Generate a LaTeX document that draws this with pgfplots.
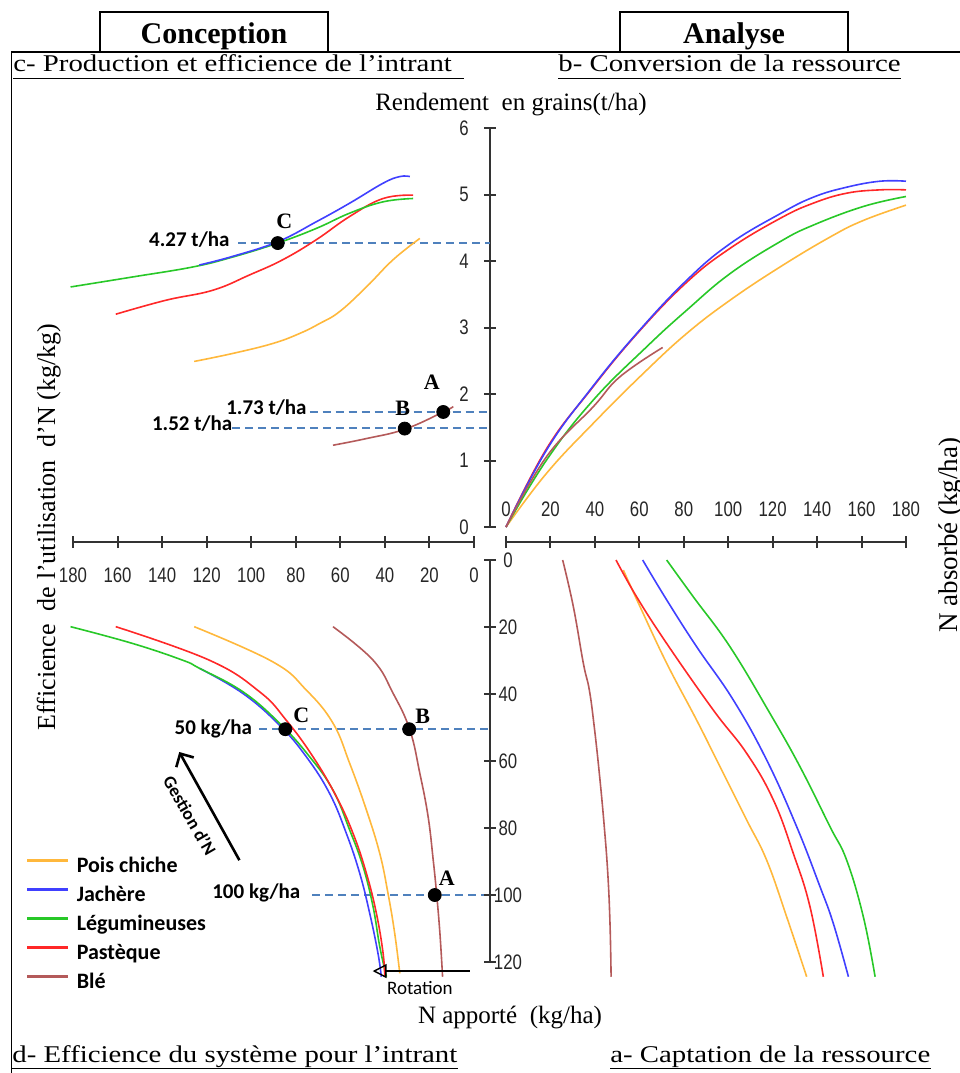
\documentclass[border=0pt]{standalone}
\usepackage{fontspec}
\usepackage{pgfplots}
\pgfplotsset{compat=1.18}
\usetikzlibrary{arrows.meta}
\setmainfont{Liberation Serif}
\newfontfamily\serifw[FakeStretch=1.2]{Liberation Serif}
\newfontfamily\calib{Carlito}
\newfontfamily\tickf[FakeStretch=0.8]{Liberation Sans}
\definecolor{cOr}{RGB}{255,184,60}
\definecolor{cBl}{RGB}{64,64,255}
\definecolor{cGr}{RGB}{40,200,40}
\definecolor{cRe}{RGB}{255,40,40}
\definecolor{cBr}{RGB}{180,90,90}
\definecolor{cDash}{RGB}{79,129,189}
\pgfplotsset{
  quad/.style={scale only axis, clip=false, xmin=0, xmax=180,
    tick align=center, major tick length=6pt,
    axis line style={line width=1pt, black!80},
    tick style={line width=1pt, black!80},
    tick label style={font=\tickf\fontsize{10.5}{12}\selectfont, text=black!85},
    /pgf/number format/assume math mode=true, minor tick num=0},
  crv/.style={line width=0.8pt, smooth, tension=0.7, no marks},
  dsh/.style={cDash, line width=0.8pt, dash pattern=on 4pt off 2.5pt, no marks, forget plot},
  dot/.style={only marks, mark=*, mark size=3.25pt, black, forget plot},
}
\tikzset{
  ann/.style={font=\calib\bfseries\fontsize{10.5}{12}\selectfont},
  let/.style={font=\bfseries\fontsize{11}{13}\selectfont},
}
\begin{document}
\begin{tikzpicture}
\useasboundingbox (0pt,0pt) rectangle (480pt,-536.5pt);
% frame and header boxes
\draw[line width=0.6pt] (5.75pt,-536.5pt) -- (5.75pt,-26pt) -- (480pt,-26pt);
\draw[line width=0.6pt] (50pt,-26pt) rectangle (164pt,-6pt);
\draw[line width=0.6pt] (310pt,-26pt) rectangle (424pt,-6pt);
\node[anchor=base, font=\bfseries\fontsize{15}{18}\selectfont] at (107pt,-21.5pt) {Conception};
\node[anchor=base, font=\bfseries\fontsize{15}{18}\selectfont] at (367pt,-21.5pt) {Analyse};
% section titles
\node[anchor=base west, inner sep=0pt, font=\serifw\fontsize{12}{14}\selectfont] (tc) at (6.5pt,-35.5pt) {c- Production et efficience de l’intrant};
\draw[line width=0.5pt] (6.5pt,-39.25pt) -- ([xshift=6pt]tc.base east |- 0,-39.25pt);
\node[anchor=base west, inner sep=0pt, font=\serifw\fontsize{12}{14}\selectfont] (tb) at (279pt,-35.5pt) {b- Conversion de la ressource};
\draw[line width=0.5pt] (279pt,-39.25pt) -- (tb.base east |- 0,-39.25pt);
\node[anchor=base west, inner sep=0pt, font=\serifw\fontsize{12}{14}\selectfont] (td) at (6pt,-531pt) {d- Efficience du système pour l’intrant};
\draw[line width=0.5pt] (6pt,-534pt) -- (td.base east |- 0,-534pt);
\node[anchor=base west, inner sep=0pt, font=\serifw\fontsize{12}{14}\selectfont] (ta) at (305pt,-531pt) {a- Captation de la ressource};
\draw[line width=0.5pt] (305pt,-534pt) -- (ta.base east |- 0,-534pt);
% axis titles
\node[anchor=base, font=\fontsize{12.5}{14}\selectfont] at (255.5pt,-55pt) {Rendement\ \ en grains(t/ha)};
\node[anchor=base, font=\fontsize{12.5}{14}\selectfont] at (255pt,-511.5pt) {N apporté\ \ (kg/ha)};
\node[anchor=base, rotate=90, font=\fontsize{13}{15}\selectfont] at (27.5pt,-263.5pt) {Efficience\ \ de l’utilisation\ \ d’N (kg/kg)};
\node[anchor=base, rotate=90, font=\fontsize{13.5}{15}\selectfont] at (478.5pt,-267.5pt) {N absorbé (kg/ha)};

% ---------- b: conversion (top right)
\begin{axis}[quad, at={(253pt,-263.5pt)}, anchor=origin, width=200pt, height=199.5pt,
  ymin=0, ymax=6, axis x line*=bottom, axis y line*=left,
  axis x line shift=7.5pt, axis y line shift=8pt,
  xtick={0,20,...,180}, ytick={0,1,...,6},
  xticklabel style={anchor=center, yshift=19.5pt},
  yticklabel style={anchor=center, xshift=-10pt}]
\addplot[crv, cOr] coordinates {(0,0) (18.3,0.81) (39.3,1.56) (61.8,2.31) (81.3,2.91) (100.8,3.41) (123.3,3.91) (145.8,4.36) (160.8,4.61) (180,4.84)};
\addplot[crv, cGr] coordinates {(0,0) (18.3,1.01) (39.3,1.91) (63.3,2.71) (81.3,3.26) (100.8,3.81) (123.3,4.29) (138.3,4.54) (160.8,4.82) (180,4.97)};
\addplot[crv, cRe] coordinates {(0,0) (18.3,1.18) (37.8,2.05) (58.8,2.90) (81.3,3.68) (100.8,4.19) (123.3,4.64) (138.3,4.87) (153.3,5.02) (168.3,5.07) (180,5.07)};
\addplot[crv, cBl] coordinates {(0,0) (18.3,1.16) (37.8,2.06) (58.8,2.91) (81.3,3.71) (100.8,4.26) (123.3,4.71) (138.3,4.96) (153.3,5.11) (168.3,5.20) (180,5.20)};
\addplot[crv, cBr] coordinates {(0,0) (18.3,1.06) (39.3,1.81) (51.3,2.26) (70.5,2.70)};
\end{axis}

% ---------- c: production (top left)
\begin{axis}[quad, at={(237pt,-263.5pt)}, anchor=origin, width=200.5pt, height=199.5pt,
  ymin=0, ymax=6, x dir=reverse, axis x line*=bottom, axis x line shift=7.5pt,
  axis y line=none, xtick={0,20,...,180}, ytick=\empty,
  xticklabel style={anchor=center, yshift=-13.5pt}]
\addplot[dsh] coordinates {(105.8,4.27) (-7.2,4.27)};
\addplot[dsh] coordinates {(73.8,1.73) (-7.2,1.73)};
\addplot[dsh] coordinates {(108.5,1.49) (-7.2,1.49)};
\addplot[crv, cOr] coordinates {(125.6,2.49) (108.3,2.61) (90.3,2.76) (78.3,2.91) (69.3,3.06) (60.3,3.24) (48.3,3.61) (36.3,4.02) (24.3,4.34)};
\addplot[crv, cRe] coordinates {(160.8,3.20) (138.3,3.41) (117.3,3.56) (100.8,3.79) (85.8,4.02) (70.8,4.32) (55.8,4.67) (40.8,4.94) (27.3,4.99)};
\addplot[crv, cGr] coordinates {(181.1,3.61) (153.3,3.76) (126.3,3.91) (108.3,4.06) (88.1,4.27) (70.8,4.49) (55.8,4.72) (40.8,4.89) (27.3,4.94)};
\addplot[crv, cBl] coordinates {(123.3,3.94) (108.3,4.07) (88.1,4.29) (70.8,4.59) (55.8,4.87) (40.8,5.17) (33.3,5.27) (28.8,5.27)};
\addplot[crv, cBr] coordinates {(63.3,1.23) (48.3,1.33) (31.1,1.47) (13.8,1.73) (9.3,1.81)};
\addplot[dot] coordinates {(88.1,4.27) (31.1,1.48) (13.8,1.73)};
\node[ann] at (axis cs:127.8,4.32) {4.27 t/ha};
\node[ann] at (axis cs:93.2,1.80) {1.73 t/ha};
\node[ann] at (axis cs:126.5,1.55) {1.52 t/ha};
\node[let] at (axis cs:85.1,4.59) {C};
\node[let] at (axis cs:18.9,2.17) {A};
\node[let] at (axis cs:32,1.79) {B};
\end{axis}

% ---------- d: system efficiency (bottom left)
\begin{axis}[quad, at={(237pt,-280pt)}, anchor=origin, width=200.5pt, height=201pt,
  ymin=0, ymax=120, x dir=reverse, y dir=reverse,
  axis x line=none, axis y line=none, xtick=\empty, ytick=\empty,
  legend cell align=left,
  legend style={at={(axis cs:201.2,88.5)}, anchor=north west, draw=none, fill=none,
    inner sep=0pt, row sep=4pt, font=\calib\bfseries\fontsize{11}{13}\selectfont,
    nodes={inner sep=0pt, text height=8pt, text depth=2.5pt},
    /tikz/every odd column/.append style={column sep=3.5pt}},
  legend image code/.code={\draw[#1, line width=1.3pt] (0pt,3.5pt) -- (20.5pt,3.5pt);}]
\addplot[dsh] coordinates {(96.3,50.5) (-7.2,50.5)};
\addplot[dsh] coordinates {(72.5,100) (-7.2,100)};
\addplot[crv, cOr] coordinates {(125.6,19.9) (90.3,30.4) (75.3,38.8) (63.3,48.7) (55.8,60.7) (48.3,74.6) (42.3,87.6) (38.6,99.5) (35.6,111.4) (33.3,123.4)};
\addlegendentry{Pois chiche}
\addplot[crv, cBl] coordinates {(123.3,32.3) (103.8,39.8) (87.3,49.3) (75.3,58.7) (64.8,69.7) (57.3,81.6) (51.3,93.5) (46.8,105.5) (43.1,117.4) (41.6,124.4)};
\addlegendentry{Jachère}
\addplot[crv, cGr] coordinates {(181.1,19.9) (153.3,24.9) (130.8,29.9) (123.3,32.3) (103.8,39.3) (87.3,48.7) (73.8,58.7) (63.3,68.7) (55.8,80.6) (49.8,91.5) (45.3,103.5) (42.3,115.4) (39.3,124.4)};
\addlegendentry{Légumineuses}
\addplot[crv, cRe] coordinates {(160.8,19.9) (118.8,29.9) (96.3,39.3) (84.3,47.8) (72.3,58.7) (61.8,70.6) (54.3,81.6) (48.3,93.5) (43.8,105.5) (40.8,117.4) (40.1,124.4)};
\addlegendentry{Pastèque}
\addplot[crv, cBr] coordinates {(63.3,19.9) (45.3,29.9) (36.3,39.8) (28.8,50.7) (24.3,63.7) (20.6,76.6) (18.3,89.6) (16.8,99.5) (15.3,111.4) (14.1,124.4)};
\addlegendentry{Blé}
\addplot[dot] coordinates {(84.7,50.5) (29.1,50.5) (17.6,100)};
\node[ann] at (axis cs:117,50.4) {50 kg/ha};
\node[ann] at (axis cs:97.7,99.5) {100 kg/ha};
\node[let] at (axis cs:77.5,46.3) {C};
\node[let] at (axis cs:23,46.8) {B};
\node[let] at (axis cs:12.2,95) {A};
\draw[line width=1.3pt, -{Straight Barb[length=5pt,width=10pt]}] (axis cs:105.3,89.6) -- (axis cs:132.3,57.3);
\node[rotate=-60, font=\calib\bfseries\fontsize{9}{11}\selectfont] at (axis cs:127.5,76.3) {Gestion d’N};
\draw[line width=0.7pt, -{Triangle[open,length=7pt,width=7pt]}] (axis cs:1.8,122.7) -- (axis cs:45.5,122.7);
\node[font=\calib\fontsize{9.5}{11}\selectfont] at (axis cs:24.3,127.8) {Rotation};
\end{axis}

% ---------- a: capture (bottom right)
\begin{axis}[quad, at={(253pt,-280pt)}, anchor=origin, width=200pt, height=201pt,
  ymin=0, ymax=120, y dir=reverse, axis x line=none, axis y line*=left,
  axis y line shift=8pt, ytick={0,20,...,120}, xtick=\empty,
  yticklabel style={anchor=center, xshift=12pt}]
\addplot[crv, cBr] coordinates {(25.5,0) (30.3,13.9) (34.8,30.8) (37.5,38.8) (39.7,49.7) (42.0,63.7) (44.1,78.6) (45.8,93.5) (46.8,108.5) (47.3,124.4)};
\addplot[crv, cOr] coordinates {(52.8,3) (60.3,13.9) (72.3,30.8) (85.8,47.8) (96.3,61.7) (108.3,77.6) (117.3,89.6) (126.3,106.5) (135.3,124.4)};
\addplot[crv, cRe] coordinates {(49.5,0) (58.8,11) (72.3,24.9) (93.3,44.8) (108.3,57.7) (120.3,71.6) (129.3,87.6) (136.8,103.5) (142.8,124.4)};
\addplot[crv, cBl] coordinates {(61.5,0) (72.3,11.9) (85.8,25.9) (102.3,41.8) (117.3,59.7) (130.8,79.6) (141.3,97.5) (147.3,108.5) (154.1,124.4)};
\addplot[crv, cGr] coordinates {(72.3,0) (84.3,11) (100.8,25.9) (118.8,45.8) (132.3,61.7) (145.8,79.6) (153.3,89.6) (160.8,106.5) (166.1,124.4)};
\end{axis}
\end{tikzpicture}
\end{document}
